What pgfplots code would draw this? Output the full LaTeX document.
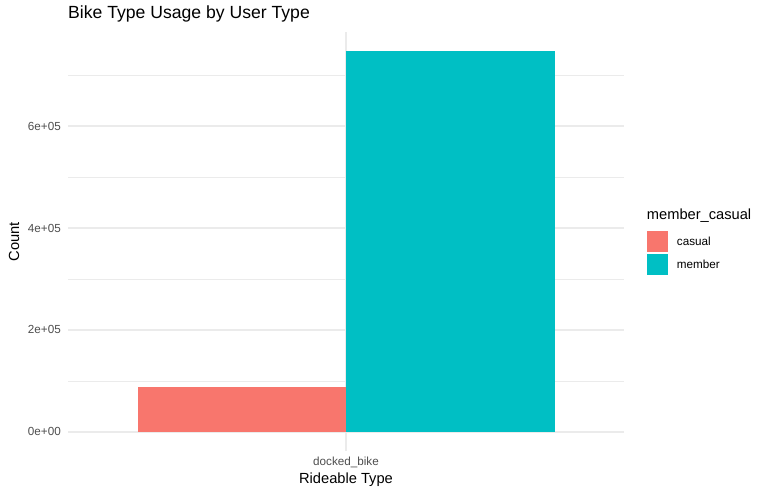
\documentclass[border=0pt]{standalone}
\usepackage{pgfplots}
\pgfplotsset{compat=1.18}
\usepackage{fontspec}
\setmainfont{Liberation Sans}

\definecolor{casualc}{HTML}{F8766D}
\definecolor{memberc}{HTML}{00BFC4}
\definecolor{gridc}{HTML}{EBEBEB}
\definecolor{tickc}{HTML}{4D4D4D}

\begin{document}
\begin{tikzpicture}
\path[use as bounding box] (0,0) rectangle (763bp,496bp);

\begin{axis}[
    at={(68bp,45bp)}, anchor=south west,
    width=556bp, height=419bp, scale only axis,
    xmin=-0.6, xmax=0.6,
    ymin=-37350, ymax=784350,
    axis line style={draw=none},
    major tick length=0pt, minor tick length=0pt,
    xtick={0}, xticklabels={docked\_bike},
    ytick={0,200000,400000,600000},
    yticklabels={0e+00,2e+05,4e+05,6e+05},
    minor ytick={100000,300000,500000,700000},
    scaled y ticks=false,
    ymajorgrids, xmajorgrids, yminorgrids,
    major grid style={gridc, line width=1.1bp},
    minor grid style={gridc, line width=0.55bp},
    yticklabel style={font=\fontsize{11.7bp}{13bp}\selectfont, text=tickc, inner sep=0pt, xshift=-7bp, anchor=east},
    xticklabel style={font=\fontsize{11.7bp}{13bp}\selectfont, text=tickc, inner sep=0pt, yshift=-6bp, anchor=north},
    xlabel={Rideable Type}, ylabel={Count},
    every axis x label/.style={at={(axis description cs:0.5,-0.0692)}, anchor=center,
        font=\fontsize{14.67bp}{16bp}\selectfont},
    every axis y label/.style={at={(axis description cs:-0.0971,0.5)}, rotate=90, anchor=center,
        font=\fontsize{14.67bp}{16bp}\selectfont},
    ybar, bar width=0.45,
    clip=false,
]
\addplot[fill=casualc, draw=none, bar shift=-0.225] coordinates {(0, 88200)};
\addplot[fill=memberc, draw=none, bar shift=0.225] coordinates {(0, 747000)};
\end{axis}

\node[anchor=base west, inner sep=0pt, font=\fontsize{17.6bp}{20bp}\selectfont] at (68bp,477bp) {Bike Type Usage by User Type};

% legend
\node[anchor=west, inner sep=0pt, font=\fontsize{14.67bp}{16bp}\selectfont] at (646.7bp,280bp) {member\_casual};
\fill[casualc] (646.7bp,244bp) rectangle (668.3bp,265.3bp);
\fill[memberc] (646.7bp,221bp) rectangle (668.3bp,242bp);
\node[anchor=west, inner sep=0pt, font=\fontsize{11.7bp}{13bp}\selectfont] at (676.7bp,254.5bp) {casual};
\node[anchor=west, inner sep=0pt, font=\fontsize{11.7bp}{13bp}\selectfont] at (676.7bp,231.5bp) {member};
\end{tikzpicture}
\end{document}
